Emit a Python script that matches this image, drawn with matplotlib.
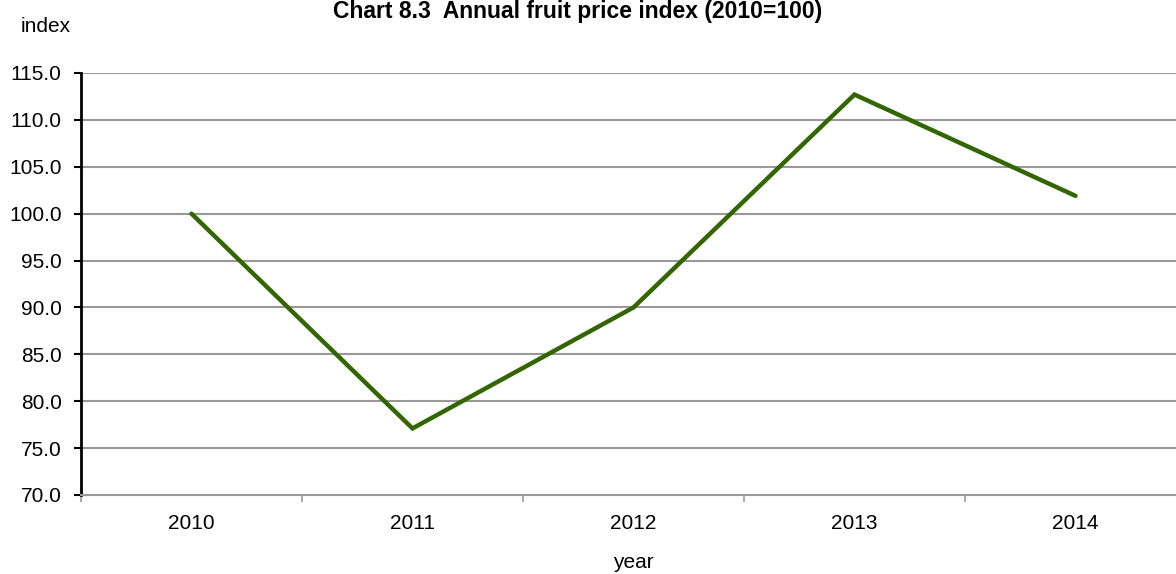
import matplotlib
matplotlib.use("Agg")
import matplotlib.pyplot as plt
import numpy as np

years = ["2010", "2011", "2012", "2013", "2014"]
index_values = [100.0, 77.1, 90.0, 112.7, 101.9]
y_ticks = [70.0, 75.0, 80.0, 85.0, 90.0, 95.0, 100.0, 105.0, 110.0, 115.0]

plt.rcParams['font.family'] = ['Liberation Sans', 'DejaVu Sans']

fig = plt.figure(figsize=(11.76, 5.74), dpi=100)
ax = fig.add_axes([81/1176, 79/574, 1105/1176, 422/574])

x = np.arange(len(years))
ax.plot(x, index_values, color='#336600', lw=3.2, solid_joinstyle='miter', solid_capstyle='round', zorder=3)

ax.set_xlim(-0.5, len(years) - 0.5)
ax.set_ylim(70, 115)
ax.set_yticks(y_ticks)
ax.set_yticklabels([f"{v:.1f}" for v in y_ticks], fontsize=15)
for v in y_ticks[1:]:
    ax.axhline(v, color='#999999', lw=1.5, zorder=1)

ax.set_xticks(x)
ax.set_xticklabels(years, fontsize=15)
ax.set_xticks(np.arange(-0.5, len(years)), minor=True)
ax.tick_params(axis='x', which='major', length=0, pad=14)
ax.tick_params(axis='x', which='minor', length=5, color='#999999', width=1.2)
ax.tick_params(axis='y', length=5, width=1.5, color='black', pad=9)

for s in ['top', 'right']:
    ax.spines[s].set_visible(False)
ax.spines['left'].set_color('black')
ax.spines['left'].set_linewidth(2)
ax.spines['bottom'].set_color('#999999')
ax.spines['bottom'].set_linewidth(1.5)

fig.text(578/1176, 1 - 18/574, "Chart 8.3  Annual fruit price index (2010=100)", ha='center', va='baseline',
         fontsize=16.5, fontweight='bold')
fig.text(21/1176, 1 - 32/574, "index", ha='left', va='baseline', fontsize=15)
fig.text(633/1176, 1 - 568/574, "year", ha='center', va='baseline', fontsize=15)

fig.savefig("out.png", dpi=100)
